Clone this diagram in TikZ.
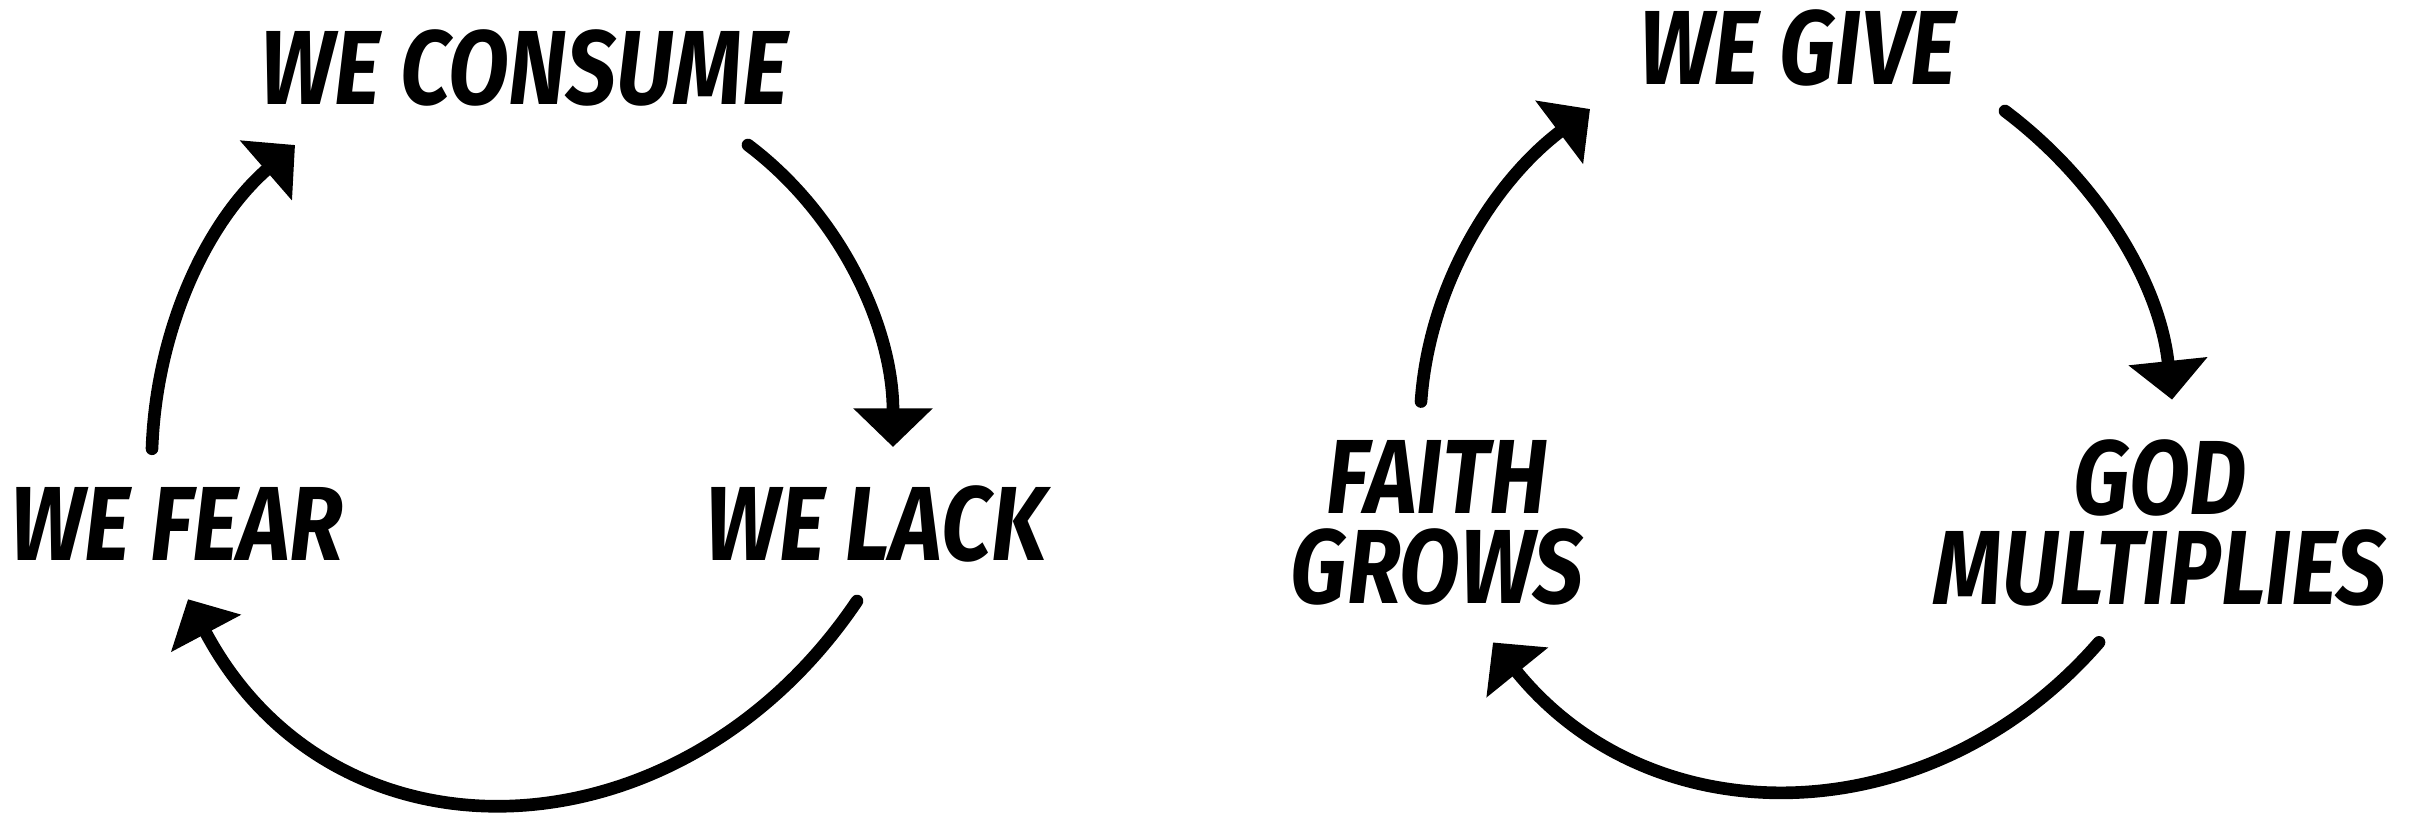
\documentclass[tikz,border=0pt]{standalone}
\usepackage{fontspec}
\newfontfamily\cyclefont{Fira Sans}[FakeStretch=0.84]
\usepackage{tikz}
\usetikzlibrary{arrows.meta}

\begin{document}
\begin{tikzpicture}[
  phase/.style={inner sep=0pt,align=center,
    font=\cyclefont\bfseries\itshape\fontsize{30}{25.8}\selectfont},
  turn/.style={line width=3.6pt,line cap=round,
    -{Triangle[length=11pt,width=22pt]}}
]
  \useasboundingbox (0,0) rectangle (24.17,8.14);

  \node[phase] (consume) at (5.24,7.46) {WE CONSUME};
  \node[phase] (lack) at (8.76,2.90) {WE LACK};
  \node[phase] (fear) at (1.77,2.90) {WE FEAR};

  \node[phase] (give) at (17.98,7.66) {WE GIVE};
  \node[phase] (god) at (21.60,2.91) {GOD\\MULTIPLIES};
  \node[phase] (faith) at (14.37,2.91) {FAITH\\GROWS};

  \draw[turn] ([shift={(2.24,-0.38)}]consume.south)
    to[out=-37,in=90,looseness=0.9] ([shift={(0.17,0.38)}]lack.north);
  \draw[turn] ([shift={(-0.19,-0.38)}]lack.south)
    to[out=-124,in=-62,looseness=1.2] ([shift={(0.11,-0.38)}]fear.south);
  \draw[turn] ([shift={(-0.25,0.38)}]fear.north)
    to[out=88,in=-139,looseness=0.9] ([shift={(-2.29,-0.38)}]consume.south);

  \draw[turn] ([shift={(2.07,-0.24)}]give.south)
    to[out=-37,in=96,looseness=0.9] ([shift={(0.12,0.39)}]god.north);
  \draw[turn] ([shift={(-0.61,-0.35)}]god.south)
    to[out=-131,in=-51,looseness=1.08] ([shift={(0.56,-0.36)}]faith.south);
  \draw[turn] ([shift={(-0.16,0.38)}]faith.north)
    to[out=86,in=-143,looseness=0.9] ([shift={(-2.08,-0.22)}]give.south);
\end{tikzpicture}
\end{document}
